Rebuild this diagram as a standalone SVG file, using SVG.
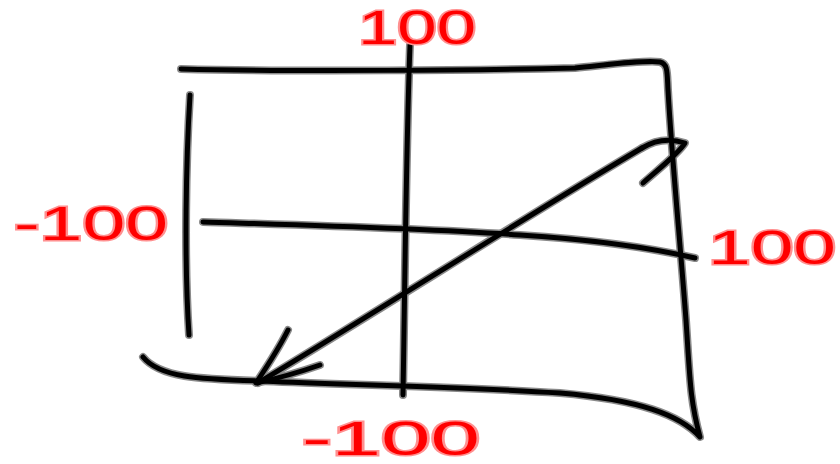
<svg xmlns="http://www.w3.org/2000/svg" width="840" height="464" viewBox="0 0 840 464">
<style>
.s{fill:none;stroke-linecap:round;stroke-linejoin:round}
.halo{stroke:#8a8a8a;stroke-width:8}
.ink{stroke:#000;stroke-width:5}
.lbl{font-family:"Liberation Sans",Arial,sans-serif;font-size:48px;fill:#ff0000;stroke:#ff9090;stroke-width:3;paint-order:stroke;font-weight:normal}
</style>
<rect width="840" height="464" fill="#fff"/>
<defs>
<g id="strokes">
<path d="M181,69 C300,72 480,70 575,68 C615,64 645,60 660,62 C668,64 667,72 668,90 C672,160 680,240 686,320 C690,380 690,400 700,437 C680,415 640,400 560,393 C450,386 320,384 260,381 C200,379 160,378 143,357"/>
<path d="M190,95 C186,160 184,260 189,335"/>
<path d="M410,45 C406,150 405,280 403,395"/>
<path d="M203,222 C300,225 420,228 520,235 C600,240 660,250 695,258"/>
<path d="M258,383 C380,310 520,220 642,148"/>
<path d="M642,148 C655,140 670,138 685,143 C680,152 660,168 643,183"/>
<path d="M288,330 C278,350 268,365 256,383 C270,380 300,372 320,365"/>
</g>
</defs>
<g id="connectors">
<use href="#strokes" class="s halo"/>
<use href="#strokes" class="s ink"/>
</g>
<g id="label-top"><text class="lbl" x="358" y="44" textLength="118" lengthAdjust="spacingAndGlyphs">100</text></g>
<g id="label-left"><text class="lbl" x="14" y="240" textLength="154" lengthAdjust="spacingAndGlyphs">-100</text></g>
<g id="label-right"><text class="lbl" x="708" y="264" textLength="128" lengthAdjust="spacingAndGlyphs">100</text></g>
<g id="label-bottom"><text class="lbl" x="302" y="455" textLength="178" lengthAdjust="spacingAndGlyphs">-100</text></g>
</svg>
